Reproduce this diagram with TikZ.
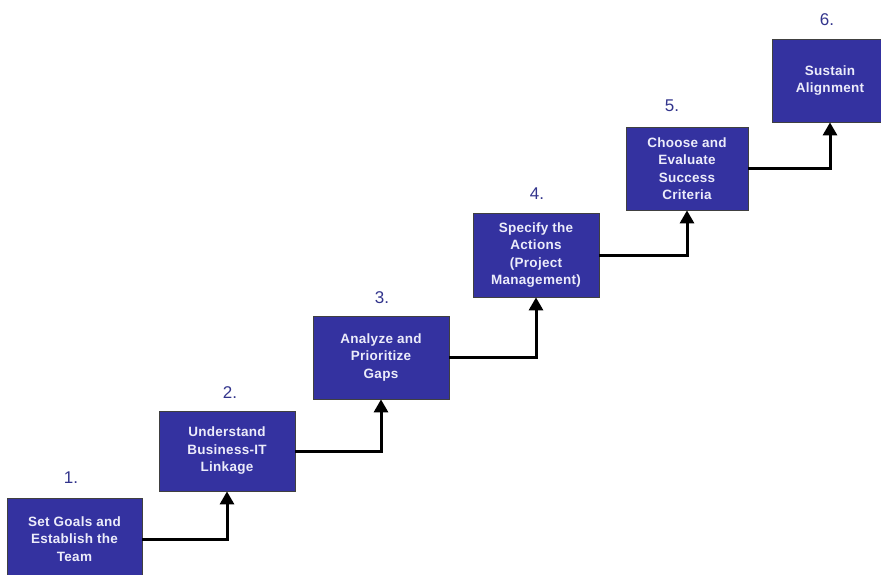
\documentclass[tikz,border=0pt]{standalone}
\usepackage{xcolor}
\usepackage{fontspec}
\setmainfont{Liberation Sans}
\usepackage{tikz}
\usetikzlibrary{arrows.meta}

\definecolor{stepfill}{RGB}{52,50,160}
\definecolor{steptext}{RGB}{236,236,250}
\definecolor{numblue}{RGB}{50,52,140}

\tikzset{
  stepbox/.style={draw=black!75, line width=0.8pt, fill=stepfill, text=steptext,
    font=\fontsize{13.5}{17.5}\selectfont\bfseries\addfontfeatures{LetterSpace=2}, align=center, inner sep=0pt},
  stepnum/.style={text=numblue, font=\fontsize{17}{19}\selectfont, inner sep=0.75pt},
  flow/.style={line width=3pt, -{Triangle[width=14pt,length=13pt]}}
}

\begin{document}
\begin{tikzpicture}[x=1pt,y=1pt,yscale=-1,xscale=1]
\useasboundingbox (0,0) rectangle (881,575);

%Shape: Rectangle [id:step1] 
\node [stepbox, minimum width=135, minimum height=82] (b1) at (74.5,539) {Set Goals and\\Establish the\\Team};
%Shape: Rectangle [id:step2] 
\node [stepbox, minimum width=136, minimum height=80] (b2) at (227,451) {Understand\\Business-IT\\Linkage};
%Shape: Rectangle [id:step3] 
\node [stepbox, minimum width=136, minimum height=83] (b3) at (381,357.5) {Analyze and\\Prioritize\\Gaps};
%Shape: Rectangle [id:step4] 
\node [stepbox, minimum width=126, minimum height=84] (b4) at (536,255) {Specify the\\Actions\\(Project\\Management)};
%Shape: Rectangle [id:step5] 
\node [stepbox, minimum width=122, minimum height=83] (b5) at (687,168.5) {Choose and\\Evaluate\\Success\\Criteria};
%Shape: Rectangle [id:step6] 
\node [stepbox, minimum width=116, minimum height=83] (b6) at (830,80.5) {Sustain\\Alignment};

% Text Node
\node [stepnum] (n1) at (71,478) {1.};
% Text Node
\node [stepnum] (n2) at (230,393) {2.};
% Text Node
\node [stepnum] (n3) at (382,298) {3.};
% Text Node
\node [stepnum] (n4) at (537,194) {4.};
% Text Node
\node [stepnum] (n5) at (672,106) {5.};
% Text Node
\node [stepnum] (n6) at (827,20) {6.};

%Straight Lines [id:flows] 
\draw [flow] (b1.east) -| (b2.south);
\draw [flow] (b2.east) -| (b3.south);
\draw [flow] (b3.east) -| (b4.south);
\draw [flow] (b4.east) -| (b5.south);
\draw [flow] (b5.east) -| (b6.south);

\end{tikzpicture}
\end{document}
